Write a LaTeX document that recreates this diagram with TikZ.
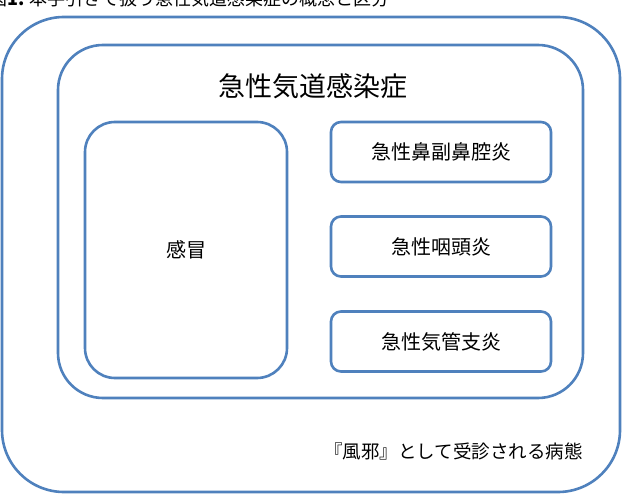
\documentclass[tikz,border=0pt]{standalone}
\usepackage{fontspec}
\setmainfont{Noto Sans CJK JP}
\usepackage{tikz}
\usetikzlibrary{positioning}
\definecolor{lineblue}{RGB}{79,129,189}

\begin{document}
\begin{tikzpicture}[x=1pt, y=-1pt, line width=2.6pt,
  frame/.style={draw=lineblue, fill=white},
  disease/.style={draw=lineblue, rounded corners=10pt, align=center,
                  minimum width=220pt, minimum height=60pt, inner sep=0pt,
                  font=\fontsize{20}{22}\selectfont}]
\useasboundingbox (0,0) rectangle (623,494);

% Titel oben (abgeschnitten)
\node[anchor=west, inner sep=0pt, font=\fontsize{18}{20}\selectfont] (caption) at (-12,-1)
  {図\textbf{1.} 本手引きで扱う急性気道感染症の概念と区分};

% aeusserer Rahmen: Erkaeltung als Beratungsanlass
\draw[frame, rounded corners=62pt] (2,17) rectangle (620,492);
\node[anchor=east, inner sep=0pt, font=\fontsize{18.5}{20}\selectfont] (kaze) at (584,451)
  {『風邪』として受診される病態};

% innerer Rahmen: akute Atemwegsinfektion
\draw[frame, rounded corners=45pt] (58,45) rectangle (583,398);
\node[inner sep=0pt, font=\fontsize{27}{30}\selectfont] (ari) at (313,86) {急性気道感染症};

% linke Box
\node[disease, rounded corners=30pt, minimum width=202pt, minimum height=256pt] (cold) at (186,250) {感冒};

% rechte Spalte
\node[disease] (sinus)    at (441,152) {急性鼻副鼻腔炎};
\node[disease] (pharynx)  at (441,246.5) {急性咽頭炎};
\node[disease] (bronchus) at (441,341.5) {急性気管支炎};
\end{tikzpicture}
\end{document}
